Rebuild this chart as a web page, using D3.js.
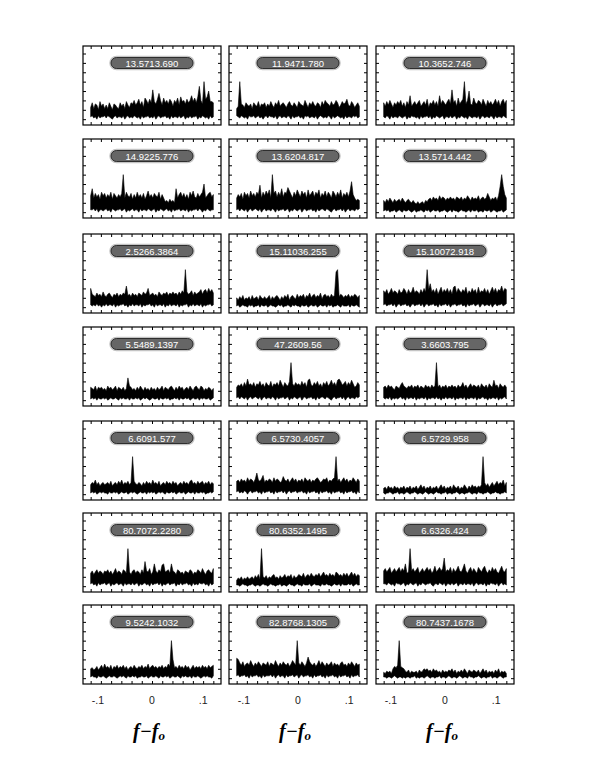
<!DOCTYPE html>
<html>
<head>
<meta charset="utf-8">
<script src="https://cdn.jsdelivr.net/npm/d3@7"></script>
<style>
  body { margin: 0; background: #fff; }
</style>
</head>
<body>
<div id="chart"></div>
<script>
// panel labels, row by row
const labels = [
  "13.5713.690", "11.9471.780", "10.3652.746",
  "14.9225.776", "13.6204.817", "13.5714.442",
  "2.5266.3864", "15.11036.255", "15.10072.918",
  "5.5489.1397", "47.2609.56", "3.6603.795",
  "6.6091.577", "6.5730.4057", "6.5729.958",
  "80.7072.2280", "80.6352.1495", "6.6326.424",
  "9.5242.1032", "82.8768.1305", "80.7437.1678"
];

// upper edge of each spectrum, one char per sample (base 36, value = n/8)
const highSeries = [
  "ae9dc8fbd9c9eb8dca9ebd9fcaedgcehcfaigdhepfdhmgciegdhfbgeicjfgdhegkfiejsgdwhjoffe",
  "9bwdcaecbd9ecbfadceadbfcaecgbdecadfcbecafdcbgdaecfcbedafcgedbfcdgeacfdehcbfdaceb",
  "ebfcgdaecfdgbeafckbdfcegbdfchaedgcfbkdgecfhdpegbidfhwdgodciedgfchebgdfcehdgbfhdg",
  "ekcgdfbhegcfdhbgecfdgwchedgbfchdfcgbeidfcgedhbfc9a8b9a8kcfhdgcfbheidcgdfhoceghdf",
  "cfdgbhegciegdhfncheifjcwgidhekdhglifchejgdifhcjegidhfjcgeidhfcigdhejcgehdiqfcaba",
  "a8b9ca8b9ab9ca8ab98a8797897a9bcadbcaebdcacbdbcadcbdacbecadbcbeacdbcgdacbdaemwmfc",
  "gba9cab9da9bca8bac9bacbiab9cab9cbadbcgabcab9dbacbdacbdbcadbecwdbceadbcdfbefcgdfc",
  "8697a68796a7896a87978a6979a8697a8b69a87b8a9b7a9c8ab8a9c7ab9a8b9auw9ba8a9b8a9ba8a",
  "ecfbdgcedbfcdgebfcdhcedbfcgdwfkdfcgbehcfdgcfbhicgecfdhbecgdfbhcedgcfbehdgcfeidgf",
  "ba9c8bab9a8cab9ac8ba9b8ajcb9a8b9ca8b9a8b9a8b9ac8ba9bca8b9cab8ab9ca8bca9cb8a9ba8a",
  "bdcebfcidecfbedgcebfdcgbedfchebfdcgwecfdecgdfbhidcfdgcebfdgcehdfchigdegcfdhebcfd",
  "bcadbca9cbadfcbacbdacbdacbadbcadbcwbdacbdacbdbcadbcfbdacebdcbdaecbdaecbhcdaecbdb",
  "8a9c8a79a89a8b79a8b9c8a9b8awb98a97a8b9a8c9a8b79a8b9a8b9a79a8b9a8bc9a8b9ab8a9b8a9",
  "bcadbcaebdcadicbdgacbdcaebdcabfcbdacebdacbdaecbdacbdecabdceacbdewbdacebdacbecadb",
  "5647564756465746574657468574657465746857465748657465864758675768wa7968a79b8a9c7a",
  "bdacebdcadcebdacfbdcaedbwcadebdcaebldcfacjdbecijcdebjdcaedbcadcbedacbedbfcadecbf",
  "57685768678697a6w8796879a786978a798a6978a98b79a8b98a9b8ac9a8b9a8cb9a8b9b8ac9b8a9",
  "dfcegbdfcegcfdjbcwdfcegbdfcegdfbdhcegdfocedgbfcehdcfjdbegcfdbgecfhdbecgdfcbehdcf",
  "8978a79b8c9a8b7a9b8a9b8a79a8b98a9b8a9c8ab9a8a9b8a9cawg9a8b9a8b9a79b8a9a8b9a8b9ab",
  "hgdbeacdbfcadbecadcbeadcbfcadbecbdacfdbwdbecadiecbdacfbecadbceadbcadebcadbecadbc",
  "5465648a9bwa98657465564756878675867564756576857465758647657657468574656475846564"
];

// lower edge of each spectrum, same coding
const lowSeries = [
  "23120312231321023122130231213212031223121302312231203122131230213122302132120312",
  "32132120322312312023132213023122132031223120323122130232121320312321203122132312",
  "21320312213212302132212031223130213212302213123021321203212213023122132031221321",
  "22313022123120321223123021231220312213212302132123120312231221302122313202132122",
  "23132130231232130231221320312231230213212302312231203123213210231223130231221323",
  "12120112012102112101201121021201211201121012021101211012021120110211201210112012",
  "21213120213122130212231202131221302122312031221302131221302122302131221302122312",
  "12012110212011202112012110121201121021211021120121120121120212011210211120211210",
  "23122313023122312023122313023122312031223130223122312031223123023122130231223123",
  "12120211212012112102121120211212012121012112021121201121202112120121120212112012",
  "23132130231232130231221320312231230213212302312231203123213210231223130231221323",
  "21213021212312031221302122130212213120213122130212213021221302123120212213021231",
  "12120121211021121201211201212101211202121201212102112120121120121120211212011212",
  "23121320231223120312231203122313023122312231203122312031223120312231203122312031",
  "10112101120110121011210110121011012110112011011210110112101102110112101121101121",
  "23120312231230212312203122131230212312031223130212312230213122312031213223120312",
  "11012110112101101211012110112011012110121102111201211102112110121120211121201211",
  "22132120322123021321230213212231022132130221312302213122130231221302132213023121",
  "12110211210121121012121021121201121120121121021121201211210212112021121012121102",
  "23122312031223120312223130231220312231230231223120312231203122312031223120312231",
  "11011012101101011011201011012101101120110121011012101102110112101101120110121011"
];

const xTickValues = [-0.1, 0, 0.1];
const xTickLabels = ["-.1", "0", ".1"];
const yTickValues = [0, 1, 2, 3, 4, 5, 6, 7];

const width = 599, height = 763;
const pw = 138, ph = 79;
const colX = [83, 229, 376];
const rowY = [46, 139, 234, 327, 421, 513, 605];

const decode = s => Array.from(s, c => parseInt(c, 36) / 8);

const svg = d3.select("#chart")
  .append("svg")
    .attr("width", width)
    .attr("height", height)
    .style("background", "#fff");

const x = d3.scaleLinear().domain([-0.135, 0.135]).range([0, pw]);
const y = d3.scaleLinear().domain([-0.62, 7.8]).range([ph, 0]);

const minorX = d3.range(-12, 13, 2).map(v => v / 100);

labels.forEach((lab, k) => {
  const r = Math.floor(k / 3), c = k % 3;
  const g = svg.append("g").attr("transform", `translate(${colX[c]},${rowY[r]})`);

  const hi = decode(highSeries[k]);
  const lo = decode(lowSeries[k]);
  const n = hi.length;
  const pts = hi.map((h, i) => ({ f: -0.12 + i * 0.24 / (n - 1), hi: h, lo: lo[i] !== undefined ? lo[i] : 0.2 }));

  g.append("path")
    .datum(pts)
    .attr("fill", "#000")
    .attr("stroke", "#000")
    .attr("stroke-width", 0.6)
    .attr("d", d3.area()
      .x(d => x(d.f))
      .y0(d => y(d.lo))
      .y1(d => y(d.hi)));

  // inward ticks on all four sides
  g.append("g").attr("transform", `translate(0,${ph})`)
    .call(d3.axisBottom(x).tickValues(minorX).tickSize(-3).tickFormat(""));
  g.append("g")
    .call(d3.axisTop(x).tickValues(minorX).tickSize(-3).tickFormat(""));
  g.append("g")
    .call(d3.axisLeft(y).tickValues(yTickValues).tickSize(-3).tickFormat(""));
  g.append("g").attr("transform", `translate(${pw},0)`)
    .call(d3.axisRight(y).tickValues(yTickValues).tickSize(-3).tickFormat(""));
  g.selectAll(".domain").remove();
  g.selectAll(".tick line").attr("stroke", "#000");

  g.append("rect")
    .attr("width", pw).attr("height", ph)
    .attr("fill", "none").attr("stroke", "#000").attr("stroke-width", 1.2);

  // label pill
  g.append("rect")
    .attr("x", pw / 2 - 41).attr("y", 11.5).attr("width", 82).attr("height", 11).attr("rx", 5.5)
    .attr("fill", "none").attr("stroke", "#c4c4c4").attr("stroke-width", 3.5);
  g.append("rect")
    .attr("x", pw / 2 - 41).attr("y", 11.5).attr("width", 82).attr("height", 11).attr("rx", 5.5)
    .attr("fill", "#666").attr("stroke", "#222").attr("stroke-width", 0.9);
  g.append("text")
    .attr("x", pw / 2).attr("y", 20.6)
    .attr("text-anchor", "middle")
    .attr("font-family", "Liberation Sans, Arial, sans-serif")
    .attr("font-size", 9.5)
    .attr("fill", "#fff")
    .text(lab);

  if (r === 6) {
    xTickValues.forEach((v, j) => {
      g.append("text")
        .attr("x", x(v) + (v < 0 ? -3 : 0)).attr("y", 704 - rowY[6])
        .attr("text-anchor", "middle")
        .attr("font-family", "Liberation Sans, Arial, sans-serif")
        .attr("font-size", 10.5)
        .attr("fill", "#222")
        .text(xTickLabels[j]);
    });
    const t = g.append("text")
      .attr("x", pw / 2 - 3).attr("y", 738 - rowY[6])
      .attr("text-anchor", "middle")
      .attr("font-family", "Liberation Serif, serif")
      .attr("font-style", "italic")
      .attr("font-weight", "bold")
      .attr("font-size", 20)
      .attr("fill", "#000");
    t.append("tspan").text("f\u2212f");
    t.append("tspan").attr("font-size", 13).attr("dy", 2).text("o");
  }
});
</script>
</body>
</html>
